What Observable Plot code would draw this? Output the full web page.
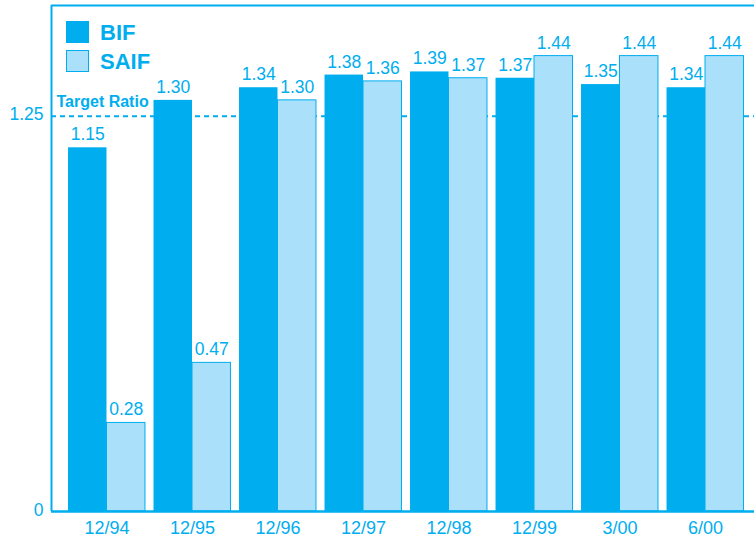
<!DOCTYPE html>
<html>
<head>
<meta charset="utf-8">
<script src="https://cdn.jsdelivr.net/npm/d3@7"></script>
<script src="https://cdn.jsdelivr.net/npm/@observablehq/plot@0.6"></script>
<style>
  html, body { margin: 0; padding: 0; background: #fff; }
  #wrap { position: relative; width: 754px; height: 539px; overflow: hidden; font-family: "Liberation Sans", Arial, sans-serif; }
  .lg { position: absolute; left: 66px; width: 23px; height: 22px; box-sizing: border-box; }
  .lt { position: absolute; left: 100px; font-weight: bold; font-size: 22px; line-height: 22px; color: #00AEEF; }
</style>
</head>
<body>
<div id="wrap"></div>
<script>
const dates = ["12/94", "12/95", "12/96", "12/97", "12/98", "12/99", "3/00", "6/00"];
const bif = [1.15, 1.30, 1.34, 1.38, 1.39, 1.37, 1.35, 1.34];
const saif = [0.28, 0.47, 1.30, 1.36, 1.37, 1.44, 1.44, 1.44];
const seriesNames = ["BIF", "SAIF"];
const targetRatio = 1.25;
const yTicks = [0, 1.25];

const CYAN = "#00AEEF";
const LIGHT = "#AAE0FA";
const half = 0.45;
const xDomain = [-0.649, 7.573];
const yDomain = [0, 1.6];

const bifData = dates.map((d, i) => ({i, date: d, v: bif[i]}));
const saifData = dates.map((d, i) => ({i, date: d, v: saif[i]}));
const fmt = d3.format(".2f");

const chart = Plot.plot({
  width: 754,
  height: 539,
  marginLeft: 51,
  marginRight: 0,
  marginTop: 5,
  marginBottom: 28,
  style: {fontFamily: "'Liberation Sans', Arial, sans-serif", background: "#fff"},
  x: {domain: xDomain},
  y: {domain: yDomain},
  marks: [
    Plot.ruleY([targetRatio], {stroke: CYAN, strokeWidth: 2, strokeDasharray: "5,4"}),
    Plot.text(["Target Ratio"], {x: xDomain[0], y: targetRatio, text: d => d, textAnchor: "start", lineAnchor: "bottom", dx: 5, dy: -9, fill: CYAN, fontSize: 16, fontWeight: "bold"}),
    Plot.rectY(bifData, {x1: d => d.i - half, x2: d => d.i, y: "v", fill: CYAN}),
    Plot.rectY(saifData, {x1: d => d.i, x2: d => d.i + half, y: "v", fill: LIGHT, stroke: CYAN, strokeWidth: 1}),
    Plot.text(bifData, {x: d => d.i - half / 2, y: "v", text: d => fmt(d.v), lineAnchor: "bottom", dy: -7.5, fill: CYAN, fontSize: 17.5}),
    Plot.text(saifData, {x: d => d.i + half / 2, y: "v", text: d => fmt(d.v), lineAnchor: "bottom", dy: -7.5, fill: CYAN, fontSize: 17.5}),
    Plot.axisX({ticks: d3.range(dates.length), tickFormat: i => dates[i], tickSize: 0, tickPadding: 9.5, fontSize: 18, color: CYAN, label: null}),
    Plot.axisY({ticks: yTicks, tickFormat: d => d === 0 ? "0" : fmt(d), tickSize: 0, tickPadding: 8, fontSize: 17.5, color: CYAN, label: null, dy: -1.5}),
    Plot.ruleX([xDomain[0]], {stroke: CYAN, strokeWidth: 2}),
    Plot.ruleY([yDomain[1]], {stroke: CYAN, strokeWidth: 2}),
    Plot.ruleY([0], {stroke: CYAN, strokeWidth: 2.5})
  ]
});

const wrap = document.getElementById("wrap");
wrap.appendChild(chart);

const legendTops = [21, 50];
const legendFills = [CYAN, LIGHT];
seriesNames.forEach((name, k) => {
  const sw = document.createElement("div");
  sw.className = "lg";
  sw.style.top = legendTops[k] + "px";
  sw.style.background = legendFills[k];
  sw.style.border = "1px solid " + CYAN;
  wrap.appendChild(sw);
  const t = document.createElement("div");
  t.className = "lt";
  t.style.top = (legendTops[k] + 1) + "px";
  t.textContent = name;
  wrap.appendChild(t);
});
</script>
</body>
</html>
